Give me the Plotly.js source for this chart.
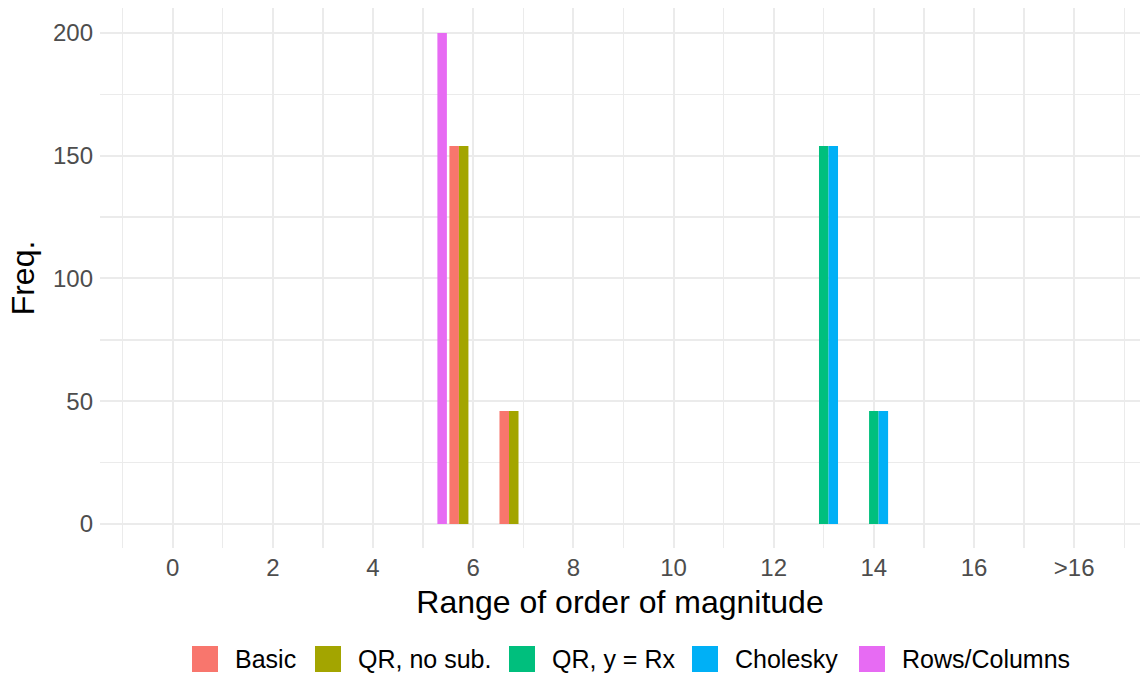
<!DOCTYPE html>
<html>
<head>
<meta charset="utf-8">
<script src="https://cdn.plot.ly/plotly-3.0.1.min.js"></script>
<style>
  html, body { margin: 0; padding: 0; background: #ffffff; }
  #chart { width: 1140px; height: 676px; }
</style>
</head>
<body>
<div id="chart"></div>
<script>
// ---- data ----
const seriesNames = ['Basic', 'QR, no sub.', 'QR, y = Rx', 'Cholesky', 'Rows/Columns'];
const basicX = [6, 7];
const basicY = [154, 46];
const qrNoSubX = [6, 7];
const qrNoSubY = [154, 46];
const qrRxX = [13, 14];
const qrRxY = [154, 46];
const choleskyX = [13, 14];
const choleskyY = [154, 46];
const rowsColsX = [5];
const rowsColsY = [200];
const xTickVals = [0, 2, 4, 6, 8, 10, 12, 14, 16, 18];
const xTickText = ['0', '2', '4', '6', '8', '10', '12', '14', '16', '>16'];
const yTickVals = [0, 50, 100, 150, 200];

// ---- style ----
const colors = ['#F8766D', '#A3A500', '#00BF7D', '#00B0F6', '#E76BF3'];
const FONT = '"Liberation Sans", Arial, Helvetica, sans-serif';
const GRID = '#EBEBEB';

const xs = [basicX, qrNoSubX, qrRxX, choleskyX, rowsColsX];
const ys = [basicY, qrNoSubY, qrRxY, choleskyY, rowsColsY];

const traces = seriesNames.map((name, i) => ({
  type: 'bar',
  name: name,
  x: xs[i],
  y: ys[i],
  marker: { color: colors[i], line: { width: 0 } },
  showlegend: false,
  hoverinfo: 'x+y+name'
}));

// plot area in pixels
const L = 100, R = 1140, T = 8, B = 548;
const W = 1140, H = 676;
const px = v => (v - L) / (R - L);
const py = v => (B - v) / (B - T);

// manual legend (ggplot-style large keys)
const keyLeft = [192, 315, 509, 692, 859];
const keySize = 26;
const keyTop = 646;
const shapes = [];
const annotations = [];
seriesNames.forEach((name, i) => {
  shapes.push({
    type: 'rect', xref: 'paper', yref: 'paper',
    x0: px(keyLeft[i]), x1: px(keyLeft[i] + keySize),
    y0: py(keyTop + keySize), y1: py(keyTop),
    fillcolor: colors[i], line: { width: 0 }
  });
  annotations.push({
    xref: 'paper', yref: 'paper',
    x: px(keyLeft[i] + 41), y: py(keyTop + keySize / 2),
    xanchor: 'left', yanchor: 'middle',
    text: name, showarrow: false,
    font: { family: FONT, size: 25, color: '#000000' }
  });
});

const layout = {
  width: W, height: H,
  margin: { l: L, r: W - R, t: T, b: H - B, pad: 0 },
  paper_bgcolor: '#ffffff',
  plot_bgcolor: '#ffffff',
  barmode: 'group',
  bargap: 0.05,
  bargroupgap: 0,
  font: { family: FONT },
  xaxis: {
    range: [-1.452, 19.315],
    tickmode: 'array',
    tickvals: xTickVals,
    ticktext: xTickText,
    showgrid: true, gridcolor: GRID, gridwidth: 2,
    minor: { tickmode: 'linear', tick0: 1, dtick: 2, showgrid: true, gridcolor: GRID, gridwidth: 1.4, ticks: '' },
    zeroline: false, showline: false, ticks: '',
    ticklabelstandoff: 3,
    tickfont: { family: FONT, size: 24, color: '#4D4D4D' },
    title: { text: 'Range of order of magnitude', font: { family: FONT, size: 32, color: '#000000' }, standoff: 10 },
    automargin: false,
    fixedrange: true
  },
  yaxis: {
    range: [-9.8, 210.2],
    tickmode: 'array',
    tickvals: yTickVals,
    showgrid: true, gridcolor: GRID, gridwidth: 2,
    minor: { tickmode: 'linear', tick0: 25, dtick: 50, showgrid: true, gridcolor: GRID, gridwidth: 1.4, ticks: '' },
    zeroline: false, showline: false, ticks: '',
    ticklabelstandoff: 6,
    tickfont: { family: FONT, size: 24, color: '#4D4D4D' },
    title: { text: 'Freq.', font: { family: FONT, size: 32, color: '#000000' }, standoff: 8 },
    automargin: false,
    fixedrange: true
  },
  shapes: shapes,
  annotations: annotations,
  showlegend: false
};

Plotly.newPlot('chart', traces, layout, { displayModeBar: false, staticPlot: true });
</script>
</body>
</html>
